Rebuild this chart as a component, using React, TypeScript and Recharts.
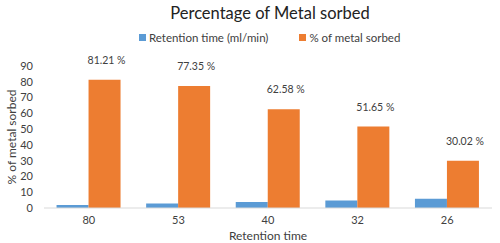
import { Bar, BarChart, LabelList, XAxis, YAxis } from "recharts";

const categories = ["80", "53", "40", "32", "26"];
const retentionRate = [1.9, 2.8, 3.8, 4.7, 5.8];
const metalSorbed = [81.21, 77.35, 62.58, 51.65, 30.02];
const yTicks = [0, 10, 20, 30, 40, 50, 60, 70, 80, 90];

const series = [
  { key: "rate", name: "Retention time (ml/min)", color: "#5b9bd5" },
  { key: "sorbed", name: "% of metal sorbed", color: "#ed7d31" },
];

const data = categories.map((c, i) => ({
  name: c,
  rate: retentionRate[i],
  sorbed: metalSorbed[i],
}));

const font = "Lato, 'Open Sans', sans-serif";
const textColor = "#404040";

function PercentLabel(props: any) {
  const { x, y, width, value } = props;
  return (
    <text
      x={x + width / 2 + 2}
      y={y - 16}
      textAnchor="middle"
      fill={textColor}
      fontSize={10.5}
      fontFamily={font}
    >
      {`${Number(value).toFixed(2)} %`}
    </text>
  );
}

export default function App() {
  return (
    <div
      style={{
        position: "absolute",
        left: 0,
        top: 0,
        width: 500,
        height: 243,
        background: "#fff",
        fontFamily: font,
      }}
    >
      <div
        style={{
          position: "absolute",
          top: 3,
          left: 0,
          width: 540,
          textAlign: "center",
          fontSize: 16.5,
          color: "#222",
        }}
      >
        Percentage of Metal sorbed
      </div>
      <div
        style={{
          position: "absolute",
          top: 31,
          left: 139,
          display: "flex",
          fontSize: 11.5,
          color: textColor,
        }}
      >
        {series.map((s) => (
          <div
            key={s.key}
            style={{ display: "flex", alignItems: "center", marginRight: 31 }}
          >
            <span
              style={{
                width: 7,
                height: 7,
                background: s.color,
                marginRight: 3,
                display: "inline-block",
              }}
            />
            {s.name}
          </div>
        ))}
      </div>
      <BarChart
        width={500}
        height={243}
        data={data}
        margin={{ top: 66, right: 8, left: 0, bottom: 0 }}
        barGap={0}
        barCategoryGap="14%"
        style={{ fontFamily: font }}
      >
        <XAxis
          dataKey="name"
          height={35}
          tickLine={false}
          axisLine={{ stroke: "#d9d9d9" }}
          tick={{ fill: textColor, fontSize: 11 }}
          label={{
            value: "Retention time",
            position: "insideBottom",
            offset: 3,
            fill: textColor,
            fontSize: 12,
          }}
        />
        <YAxis
          width={44}
          domain={[0, 90]}
          ticks={yTicks}
          interval={0}
          axisLine={false}
          tickLine={false}
          tickMargin={5}
          tick={{ fill: textColor, fontSize: 11 }}
          label={{
            value: "% of metal sorbed",
            angle: -90,
            position: "center",
            dx: -10,
            fill: textColor,
            fontSize: 12,
          }}
        />
        <Bar
          dataKey="rate"
          name={series[0].name}
          fill={series[0].color}
          isAnimationActive={false}
        />
        <Bar
          dataKey="sorbed"
          name={series[1].name}
          fill={series[1].color}
          isAnimationActive={false}
        >
          <LabelList dataKey="sorbed" content={PercentLabel} />
        </Bar>
      </BarChart>
    </div>
  );
}
